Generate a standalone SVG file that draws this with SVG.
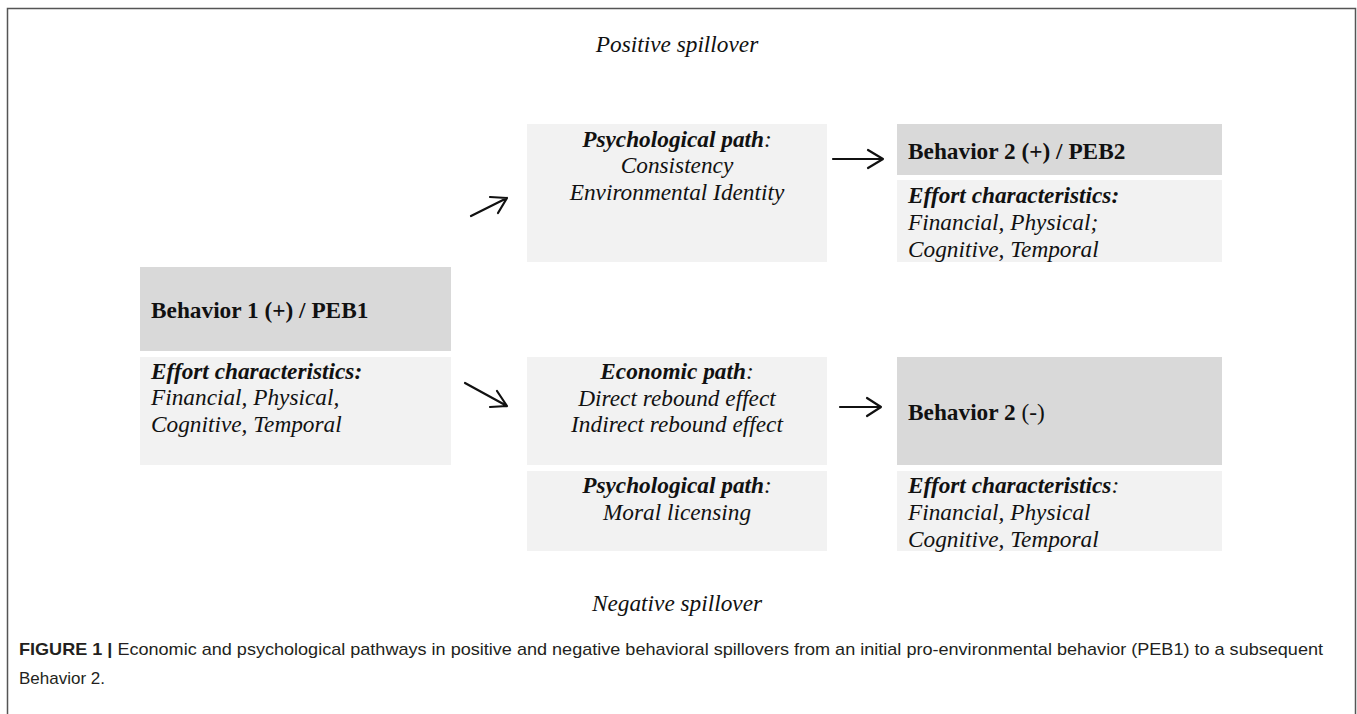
<svg xmlns="http://www.w3.org/2000/svg" width="1357" height="714" viewBox="0 0 1357 714">
<style>
.hd{fill:#d9d9d9}
.bd{fill:#f2f2f2}
.t{font-family:"Liberation Serif","Times New Roman",serif;font-size:23.3px;fill:#111}
.b{font-weight:bold}
.i{font-style:italic}
.c{text-anchor:middle}
.cap{font-family:"Liberation Sans",Arial,sans-serif;font-size:17px;fill:#231f20}
.arr{fill:none;stroke:#111;stroke-width:2.2;stroke-linecap:round;stroke-linejoin:round}
</style>
<rect x="0" y="0" width="1357" height="714" fill="#fff"/>
<path d="M7.5 714 V8.5 H1355.5 V714" fill="none" stroke="#555" stroke-width="1.5"/>
<text class="t i c" x="677" y="52" font-size="22.5">Positive spillover</text>
<text class="t i c" x="677" y="611" font-size="22.5">Negative spillover</text>

<g id="b1">
<rect class="hd" x="140" y="267" width="311" height="84"/>
<rect class="bd" x="140" y="357" width="311" height="108"/>
<text class="t b" x="151" y="318">Behavior 1 (+) / PEB1</text>
<text class="t b i" x="151" y="379">Effort characteristics:</text>
<text class="t i" x="151" y="405">Financial, Physical,</text>
<text class="t i" x="151" y="432">Cognitive, Temporal</text>
</g>

<g id="psych_pos">
<rect class="bd" x="527" y="124" width="300" height="138"/>
<text class="t i c" x="677" y="147"><tspan class="b">Psychological path</tspan>:</text>
<text class="t i c" x="677" y="173">Consistency</text>
<text class="t i c" x="677" y="200">Environmental Identity</text>
</g>

<g id="b2pos">
<rect class="hd" x="897" y="124" width="325" height="51"/>
<rect class="bd" x="897" y="180" width="325" height="82"/>
<text class="t b" x="908" y="159">Behavior 2 (+) / PEB2</text>
<text class="t b i" x="908" y="203">Effort characteristics:</text>
<text class="t i" x="908" y="230">Financial, Physical;</text>
<text class="t i" x="908" y="257">Cognitive, Temporal</text>
</g>

<g id="econ">
<rect class="bd" x="527" y="357" width="300" height="108"/>
<text class="t i c" x="677" y="379"><tspan class="b">Economic path</tspan>:</text>
<text class="t i c" x="677" y="406">Direct rebound effect</text>
<text class="t i c" x="677" y="432">Indirect rebound effect</text>
</g>

<g id="psych_neg">
<rect class="bd" x="527" y="471" width="300" height="80"/>
<text class="t i c" x="677" y="493"><tspan class="b">Psychological path</tspan>:</text>
<text class="t i c" x="677" y="520">Moral licensing</text>
</g>

<g id="b2neg">
<rect class="hd" x="897" y="357" width="325" height="108"/>
<rect class="bd" x="897" y="471" width="325" height="80"/>
<text class="t b" x="908" y="420">Behavior 2 <tspan font-weight="normal">(-)</tspan></text>
<text class="t i" x="908" y="493"><tspan class="b">Effort characteristics</tspan>:</text>
<text class="t i" x="908" y="520">Financial, Physical</text>
<text class="t i" x="908" y="547">Cognitive, Temporal</text>
</g>

<g id="connectors">
<path class="arr" d="M471 216 L507 198 M490 197 L507 198 L498 213"/>
<path class="arr" d="M465 383 L507 406 M497 391 L507 406 L490 407"/>
<path class="arr" d="M833 159 L883 159 M868 150 L883 159 L868 168"/>
<path class="arr" d="M840 407 L881 407 M867 398 L881 407 L867 416"/>
</g>

<text class="cap" x="19" y="655" textLength="1304" lengthAdjust="spacingAndGlyphs"><tspan font-weight="bold">FIGURE 1 |</tspan> Economic and psychological pathways in positive and negative behavioral spillovers from an initial pro-environmental behavior (PEB1) to a subsequent</text>
<text class="cap" x="19" y="684">Behavior 2.</text>
</svg>
